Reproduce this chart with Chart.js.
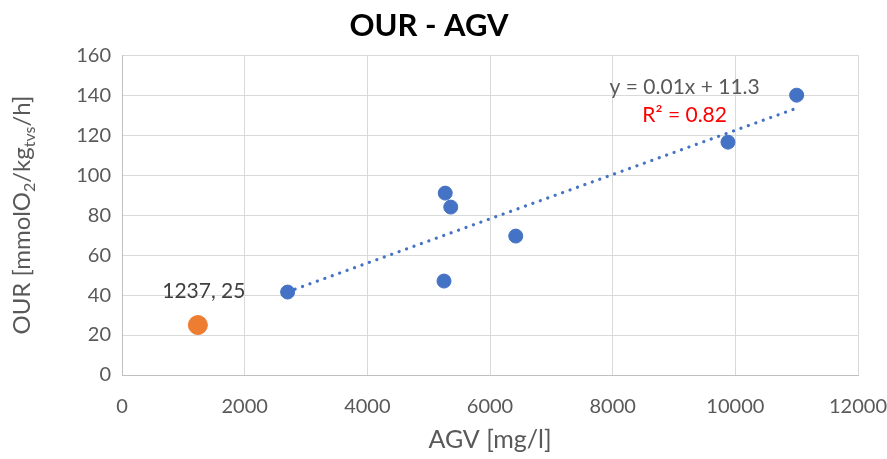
<!DOCTYPE html>
<html><head><meta charset="utf-8">
<script src="https://cdn.jsdelivr.net/npm/chart.js@4/dist/chart.umd.min.js"></script>
<style>html,body{margin:0;padding:0;background:#fff}#wrap{width:887px;height:459px}</style>
</head><body><div id="wrap"><canvas id="c"></canvas></div>
<script>
const chartTitle = "OUR - AGV";
const xTitle = "AGV [mg/l]";
const agv = [2700, 5270, 5360, 5250, 6420, 9880, 11000];
const our = [41.5, 91, 84, 47, 69.5, 116.5, 140];
const highlightX = [1237];
const highlightY = [25];
const highlightLabel = ["1237, 25"];
const trendX = [2700, 11000];
const trendY = [41.6, 133.5];
const eqText = "y = 0.01x + 11.3";
const r2Text = "R² = 0.82";
const xTicks = [0, 2000, 4000, 6000, 8000, 10000, 12000];
const yTicks = [0, 20, 40, 60, 80, 100, 120, 140, 160];

const FONT = "Lato, 'Open Sans', sans-serif";
const GREY = "#595959";

const extras = {
  id: 'extras',
  afterDatasetsDraw(chart) {
    const ctx = chart.ctx, xs = chart.scales.x, ys = chart.scales.y, ca = chart.chartArea;
    ctx.save();
    ctx.font = "21px " + FONT;
    ctx.fillStyle = "#404040";
    ctx.textAlign = "center"; ctx.textBaseline = "middle";
    highlightX.forEach((v, i) => {
      ctx.fillText(highlightLabel[i], xs.getPixelForValue(v) + 6, ys.getPixelForValue(highlightY[i]) - 34);
    });
    const ex = xs.getPixelForValue(trendX[1]) - 112, ey = ys.getPixelForValue(trendY[1]);
    ctx.fillStyle = GREY;
    ctx.fillText(eqText, ex, ey - 21);
    ctx.fillStyle = "#FF0000";
    ctx.fillText(r2Text, ex, ey + 7);
    const parts = [["OUR [mmolO", false], ["2", true], ["/kg", false], ["tvs", true], ["/h]", false]];
    const big = "24px " + FONT, small = "16px " + FONT;
    let total = 0;
    parts.forEach(p => { ctx.font = p[1] ? small : big; total += ctx.measureText(p[0]).width; });
    ctx.translate(22, (ca.top + ca.bottom) / 2);
    ctx.rotate(-Math.PI / 2);
    ctx.textAlign = "left"; ctx.textBaseline = "alphabetic";
    ctx.fillStyle = GREY;
    let x = -total / 2;
    parts.forEach(p => {
      ctx.font = p[1] ? small : big;
      ctx.fillText(p[0], x, p[1] ? 13 : 8);
      x += ctx.measureText(p[0]).width;
    });
    ctx.restore();
  }
};

new Chart(document.getElementById('c'), {
  type: 'scatter',
  data: {
    datasets: [
      {
        label: 'trend', type: 'line',
        data: trendX.map((v, i) => ({x: v, y: trendY[i]})),
        borderColor: '#4472C4', borderWidth: 3.2, borderDash: [0.1, 7.8], borderCapStyle: 'round',
        pointRadius: 0, fill: false, order: 2
      },
      {
        label: 'OUR',
        data: agv.map((v, i) => ({x: v, y: our[i]})),
        backgroundColor: '#4472C4', borderColor: '#4472C4', pointRadius: 7, pointHoverRadius: 7, order: 1
      },
      {
        label: 'highlight',
        data: highlightX.map((v, i) => ({x: v, y: highlightY[i]})),
        backgroundColor: '#ED7D31', borderColor: '#ED7D31', pointRadius: 9.5, pointHoverRadius: 9.5, order: 1
      }
    ]
  },
  options: {
    responsive: true, maintainAspectRatio: false, animation: false,
    layout: { padding: { left: 0, right: 29, top: 0, bottom: 0 } },
    plugins: {
      legend: { display: false }, tooltip: { enabled: false },
      title: { display: true, text: chartTitle, color: '#000', font: { family: FONT, size: 31, weight: 'bold' }, padding: { top: 7, bottom: 11 } }
    },
    scales: {
      x: {
        type: 'linear', min: 0, max: 12000,
        afterBuildTicks: s => { s.ticks = xTicks.map(v => ({value: v})); },
        afterFit: s => { s.height = 84; s.paddingLeft = 0; s.paddingRight = 0; },
        grid: { color: '#D9D9D9', lineWidth: 1, drawTicks: false },
        border: { color: '#BFBFBF' },
        ticks: { color: GREY, font: { family: FONT, size: 20 }, padding: 20, maxRotation: 0, callback: v => String(v) },
        title: { display: true, text: xTitle, color: GREY, font: { family: FONT, size: 25 }, padding: { top: 3 } }
      },
      y: {
        min: 0, max: 160,
        afterBuildTicks: s => { s.ticks = yTicks.map(v => ({value: v})); },
        afterFit: s => { s.width = 122; s.paddingTop = 0; s.paddingBottom = 0; },
        grid: { color: '#D9D9D9', lineWidth: 1, drawTicks: false },
        border: { color: '#BFBFBF' },
        ticks: { color: GREY, font: { family: FONT, size: 20 }, padding: 11, callback: v => String(v) }
      }
    }
  },
  plugins: [extras]
});
</script></body></html>
